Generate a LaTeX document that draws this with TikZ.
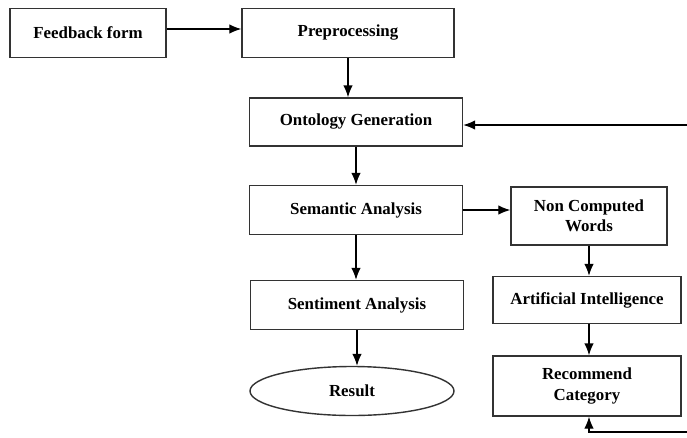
\documentclass[tikz,border=0pt]{standalone}
\usepackage{fontspec}
\setmainfont{Liberation Serif}
\usetikzlibrary{arrows.meta,shapes.geometric}
\newcommand\colorBox{black!80}
\newcommand\colorFlow{black}
\newcommand\flowFont{\fontsize{12}{14.5}\selectfont\bfseries}
\tikzset{
	stage/.style={draw=\colorBox, line width=1pt, font=\flowFont, align=center, inner sep=0pt},
	flow/.style={-{Latex[length=3mm,width=2.4mm]}, color=\colorFlow, line width=1pt}
}

\begin{document}
\begin{tikzpicture}[x=0.025cm, y=-0.025cm]
		\useasboundingbox (0,0) rectangle (687,437);
		
		% main column
		\node[stage, minimum width=156*0.025cm, minimum height=49*0.025cm] (feedback) at (88,33) {Feedback form};
		\node[stage, minimum width=212*0.025cm, minimum height=49*0.025cm] (prep) at (348,33) {Preprocessing};
		\node[stage, minimum width=213*0.025cm, minimum height=48*0.025cm] (onto) at (356,122) {Ontology Generation};
		\node[stage, minimum width=213*0.025cm, minimum height=49*0.025cm] (sem) at (356,210) {Semantic Analysis};
		\node[stage, minimum width=213*0.025cm, minimum height=49*0.025cm] (senti) at (357,305) {Sentiment Analysis};
		\node[stage, ellipse, minimum width=204*0.025cm, minimum height=49*0.025cm] (result) at (352,391) {Result};
		
		% side column
		\node[stage, minimum width=156*0.025cm, minimum height=58*0.025cm] (noncomp) at (589,216) {Non Computed\\Words};
		\node[stage, minimum width=188*0.025cm, minimum height=47*0.025cm] (ai) at (587,300) {Artificial Intelligence};
		\node[stage, minimum width=188*0.025cm, minimum height=60*0.025cm] (recom) at (587,386) {Recommend\\Category};
		
		\draw[flow] ([yshift=0.1cm]feedback.east) -- ([yshift=0.1cm]prep.west);
		\draw[flow] (prep) -- (prep |- onto.north);
		\draw[flow] (sem |- onto.south) -- (sem);
		\draw[flow] (sem) -- (sem |- senti.north);
		\draw[flow] (senti) -- (senti |- result.north);
		\draw[flow] (sem.east) -- (sem.east -| noncomp.west);
		\draw[flow] (noncomp) -- (noncomp |- ai.north);
		\draw[flow] (noncomp |- ai.south) -- (noncomp |- recom.north);
		
		% loop back out of the frame
		\coordinate (loopR) at (700,432);
		\draw[flow, {Latex[length=3mm,width=2.4mm]}-{Latex[length=3mm,width=2.4mm]}]
			(noncomp |- recom.south) |- (loopR) |- ([yshift=-0.075cm]onto.east);
	\end{tikzpicture}
\end{document}
